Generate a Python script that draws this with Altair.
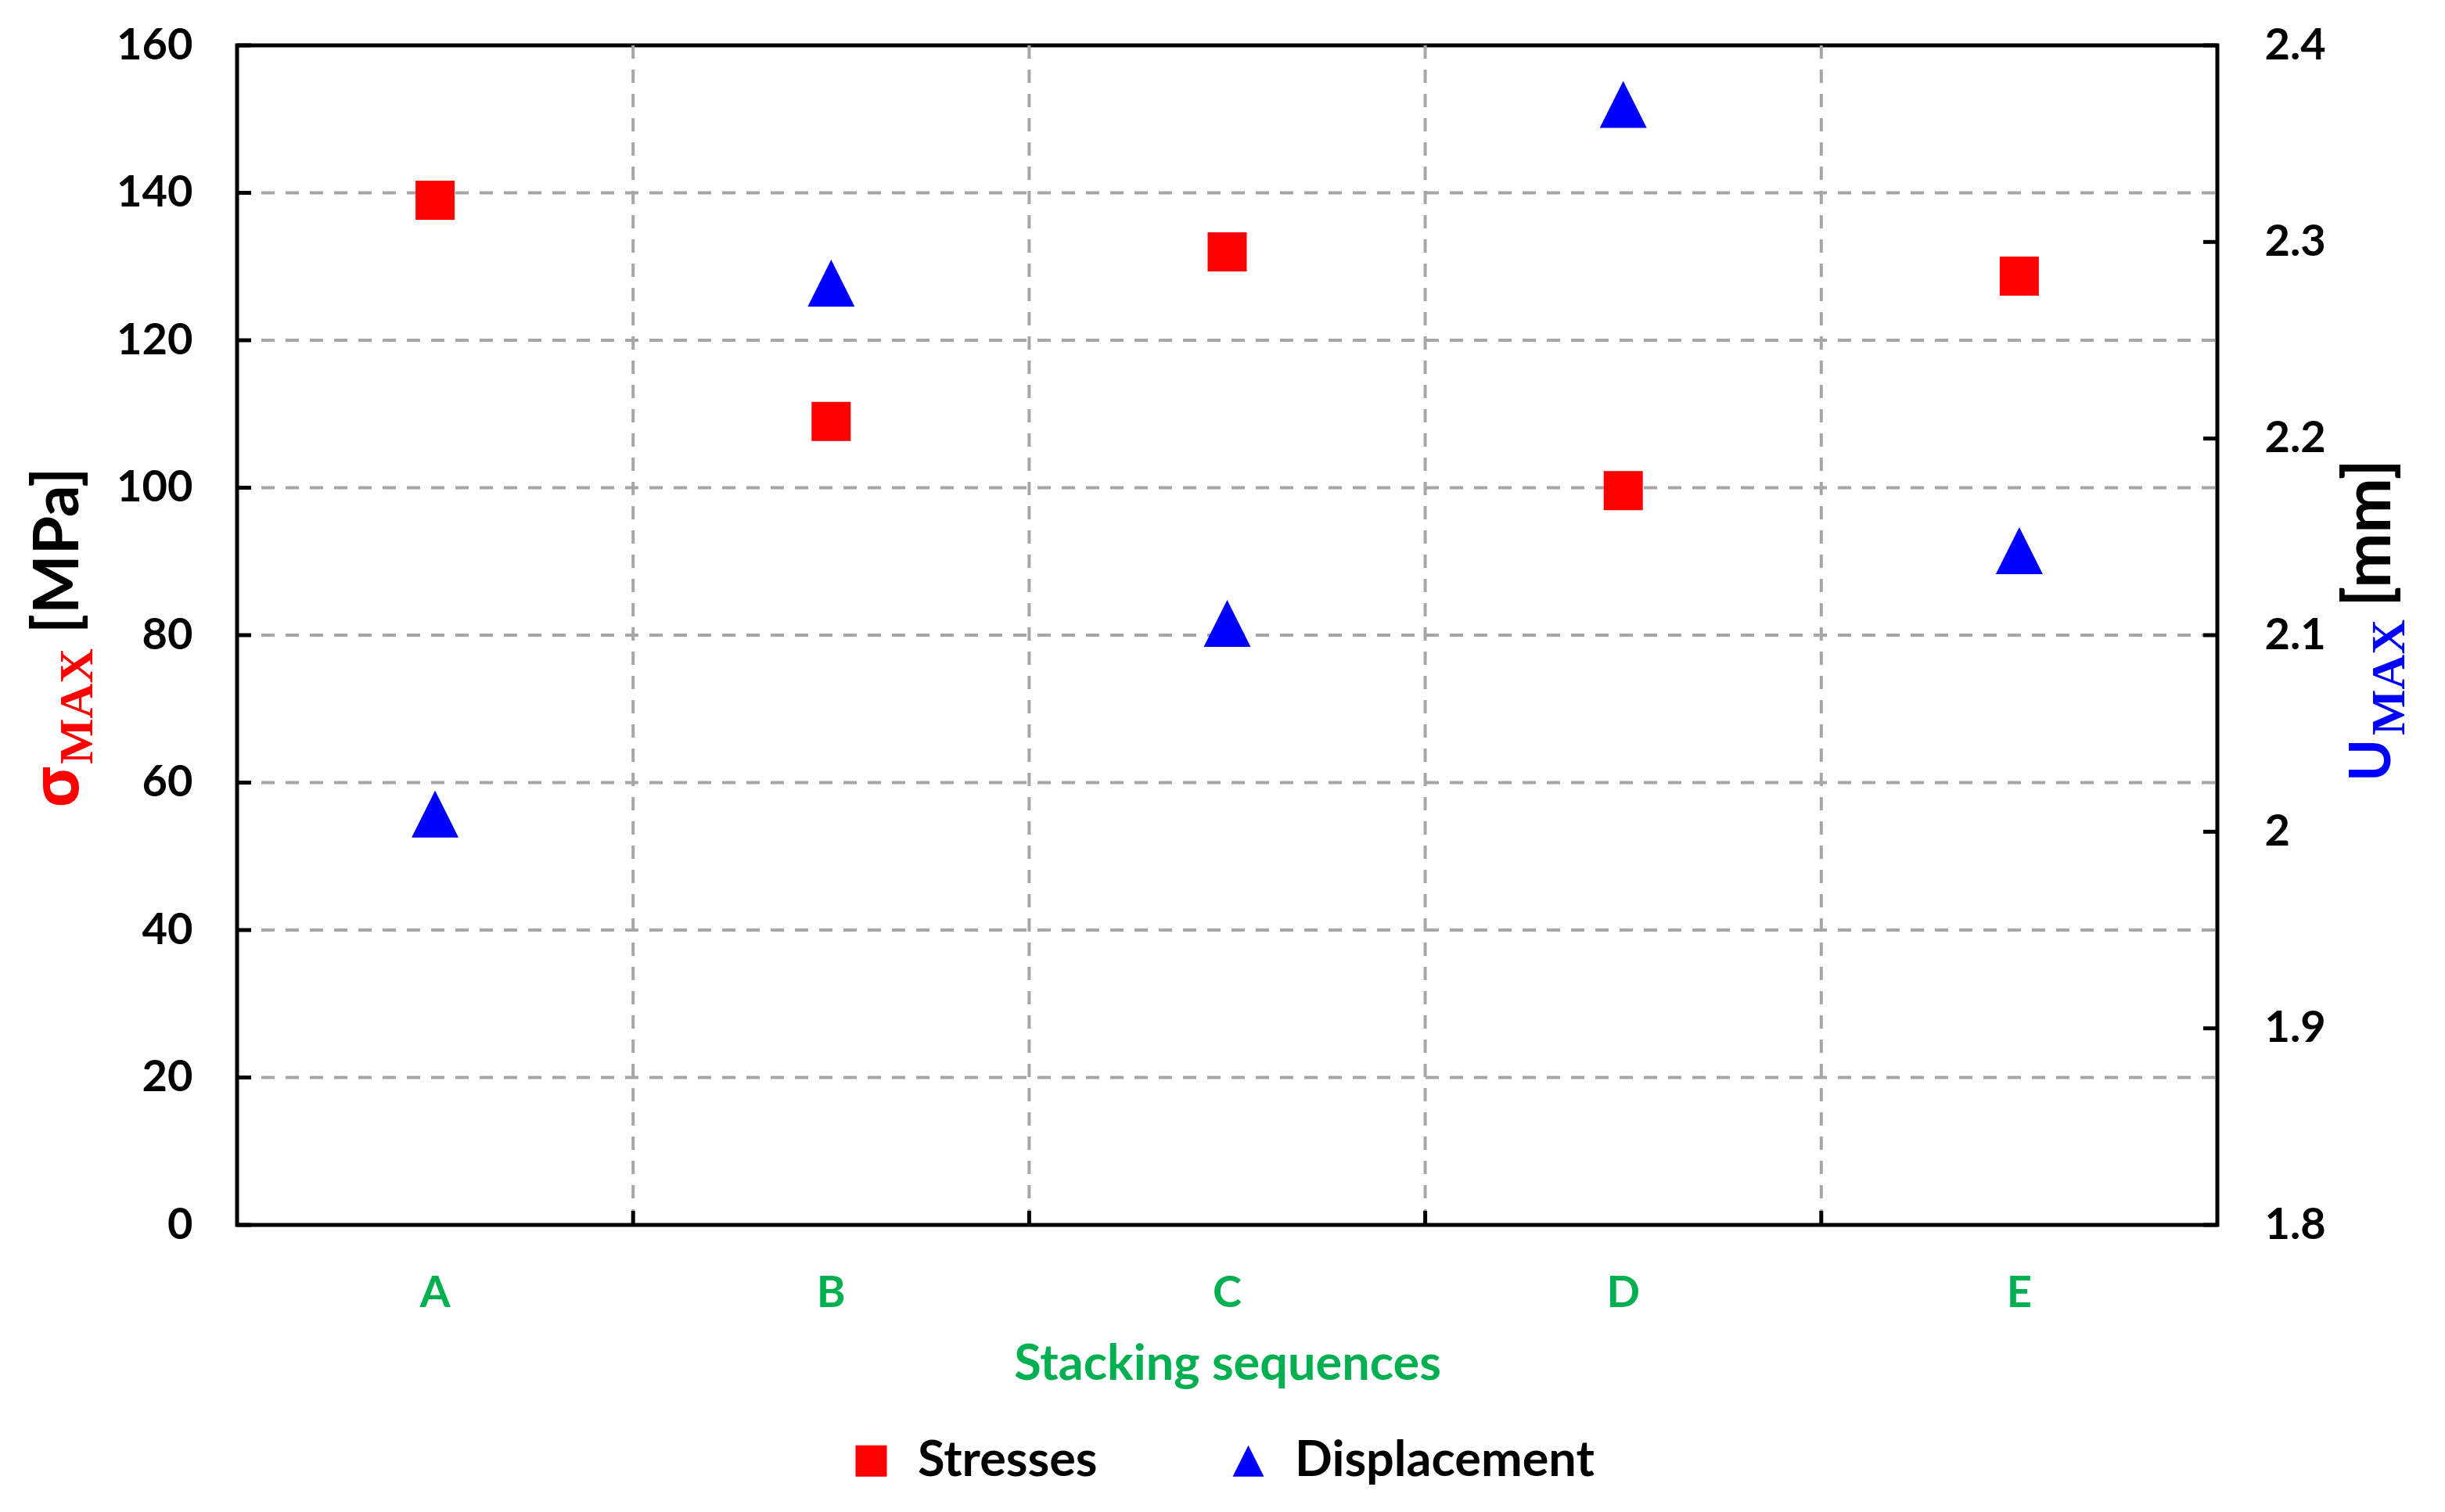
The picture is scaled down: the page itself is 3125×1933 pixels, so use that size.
import altair as alt
import pandas as pd

# ---------------- data ----------------
categories = ["A", "B", "C", "D", "E"]
stresses = [139.0, 109.0, 132.0, 99.6, 128.7]
displacement = [2.009, 2.279, 2.106, 2.370, 2.143]
series_names = ["Stresses", "Displacement"]
left_ticks = [0, 20, 40, 60, 80, 100, 120, 140, 160]
right_ticks = [1.8, 1.9, 2.0, 2.1, 2.2, 2.3, 2.4]
x_title = "Stacking sequences"
left_title = ["σ", "MAX", "[MPa]"]
right_title = ["U", "MAX", "[mm]"]

# ---------------- style ----------------
W, H = 2531, 1508
RED, BLUE, GREEN = "#FF0000", "#0000FF", "#00B050"
GRID = "#A6A6A6"
TRI = "M-1,1L1,1L0,-1Z"
FONT = "Lato"
SERIF = "Liberation Serif"

stress_df = pd.DataFrame({"cat": categories, "value": stresses, "series": series_names[0]})
disp_df = pd.DataFrame({"cat": categories, "value": displacement, "series": series_names[1]})
lt_df = pd.DataFrame({"value": left_ticks})
hgrid_df = pd.DataFrame({"value": left_ticks[1:-1]})
rt_df = pd.DataFrame({"value": right_ticks})
bnd_df = pd.DataFrame({"cat": categories[1:]})

xscale = alt.Scale(type="band", domain=categories, paddingInner=0, paddingOuter=0)
yl = alt.Scale(domain=[0, 160], nice=False, zero=False)
yr = alt.Scale(domain=[1.8, 2.4], nice=False, zero=False)
color_scale = alt.Scale(domain=series_names, range=[RED, BLUE])
shape_scale = alt.Scale(domain=series_names, range=["square", TRI])

leg = alt.Legend(
    orient="none", legendX=779, legendY=1778, direction="horizontal", title=None,
    labelFont=FONT, labelFontSize=63, labelFontWeight="bold", labelColor="black",
    symbolSize=1600, symbolStrokeWidth=0, symbolOpacity=1, labelOffset=28,
    columnPadding=161, padding=0, labelLimit=2000,
)

x_axis = alt.Axis(
    orient="bottom", title=x_title, labelColor=GREEN, labelFontSize=56, labelPadding=60,
    ticks=False, tickSize=0, domain=False, grid=False, labelAngle=0,
    titleColor=GREEN, titleFontSize=63, titleY=197, titleBaseline="alphabetic",
)
yl_axis = alt.Axis(
    orient="left", values=left_ticks, ticks=False, tickSize=0, domain=False, grid=False,
    labelPadding=57, title=None, labelFontSize=56, labelColor="black",
)
yr_axis = alt.Axis(
    orient="right", values=right_ticks, format=".1~f", ticks=False, tickSize=0,
    domain=False, grid=False, labelPadding=60, title=None, labelFontSize=56,
    labelColor="black",
)

# left group -------------------------------------------------
hgrid = alt.Chart(hgrid_df).mark_rule(color=GRID, strokeWidth=4, strokeDash=[17, 14]).encode(
    y=alt.Y("value:Q", scale=yl, axis=yl_axis),
    x=alt.value(0), x2=alt.value(W),
)
lticks = alt.Chart(lt_df).mark_rule(color="black", strokeWidth=5).encode(
    y=alt.Y("value:Q", scale=yl, axis=yl_axis), x=alt.value(0), x2=alt.value(18),
)
stress = alt.Chart(stress_df).mark_point(filled=True, size=2500, opacity=1, strokeWidth=0).encode(
    x=alt.X("cat:N", scale=xscale, axis=x_axis),
    y=alt.Y("value:Q", scale=yl, axis=yl_axis),
    color=alt.Color("series:N", scale=color_scale, legend=leg),
    shape=alt.Shape("series:N", scale=shape_scale, legend=leg),
)
left_group = alt.layer(hgrid, lticks, stress)

# right group ------------------------------------------------
rticks = alt.Chart(rt_df).mark_rule(color="black", strokeWidth=5).encode(
    y=alt.Y("value:Q", scale=yr, axis=yr_axis),
    x=alt.value(W - 18), x2=alt.value(W),
)
disp = alt.Chart(disp_df).mark_point(filled=True, size=3600, opacity=1, strokeWidth=0).encode(
    x=alt.X("cat:N", scale=xscale, axis=x_axis),
    y=alt.Y("value:Q", scale=yr, axis=yr_axis),
    color=alt.Color("series:N", scale=color_scale, legend=leg),
    shape=alt.Shape("series:N", scale=shape_scale, legend=leg),
)
right_group = alt.layer(rticks, disp)

# vertical grid + bottom ticks -------------------------------
vgrid = alt.Chart(bnd_df).mark_rule(color=GRID, strokeWidth=4, strokeDash=[17, 14]).encode(
    x=alt.X("cat:N", scale=xscale, bandPosition=0, axis=x_axis),
    y=alt.value(0), y2=alt.value(H),
)
bticks = alt.Chart(bnd_df).mark_rule(color="black", strokeWidth=5).encode(
    x=alt.X("cat:N", scale=xscale, bandPosition=0, axis=x_axis),
    y=alt.value(H - 18), y2=alt.value(H),
)


def title_piece(text, x, y, color, font, size):
    return alt.Chart(pd.DataFrame({"t": [text]})).mark_text(
        angle=270, align="left", baseline="alphabetic", font=font, fontSize=size,
        fontWeight="bold", color=color,
    ).encode(text="t:N", x=alt.value(x), y=alt.value(y))


titles = [
    title_piece(left_title[0], -203, 975, RED, "Open Sans", 82),
    title_piece(left_title[1], -185, 919, RED, SERIF, 62),
    title_piece(left_title[2], -203, 752, "black", FONT, 80),
    title_piece(right_title[0], 2752, 941, BLUE, FONT, 73),
    title_piece(right_title[1], 2770, 882, BLUE, SERIF, 62),
    title_piece(right_title[2], 2752, 718, "black", FONT, 84),
]

chart = alt.layer(vgrid, bticks, left_group, right_group, *titles).resolve_scale(
    y="independent"
).properties(
    width=W, height=H,
    autosize=alt.AutoSizeParams(type="none"),
    padding={"left": 295, "top": 50, "right": 270, "bottom": 350},
).configure_view(
    stroke="black", strokeWidth=5
).configure_axis(
    labelFont=FONT, labelFontWeight="bold", titleFont=FONT, titleFontWeight="bold"
)

chart.save("out.html", embed_options={"renderer": "svg", "actions": False})
